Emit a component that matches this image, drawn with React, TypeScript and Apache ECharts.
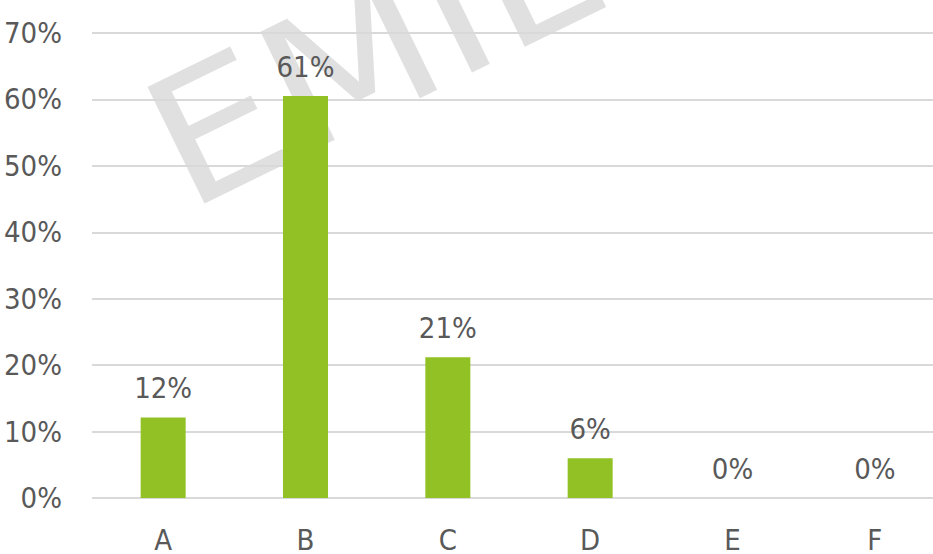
import React, { useEffect, useRef } from "react";
import * as echarts from "echarts";

const categories = ["A", "B", "C", "D", "E", "F"];
const values = [12.1, 60.5, 21.2, 6.0, 0, 0];
const yTicks = [0, 10, 20, 30, 40, 50, 60, 70];
const watermark = "EMIL";

const FONT = "'DejaVu Sans Condensed', 'DejaVu Sans', sans-serif";
const TEXT_COLOR = "#595959";

export default function App() {
  const ref = useRef<HTMLDivElement>(null);
  useEffect(() => {
    document.body.style.margin = "0";
    document.body.style.overflow = "hidden";
    if (!ref.current) return;
    const chart = echarts.init(ref.current, undefined, { renderer: "svg" });
    chart.setOption({
      animation: false,
      backgroundColor: "#ffffff",
      textStyle: { fontFamily: FONT },
      graphic: [
        {
          type: "text",
          x: 160,
          y: 157,
          rotation: 0.455,
          scaleX: 1.12,
          z: 0,
          zlevel: 0,
          silent: true,
          style: {
            text: watermark,
            fontFamily: "'DejaVu Sans', sans-serif",
            fontSize: 178,
            fill: "#e0e0e0",
            align: "left",
            verticalAlign: "middle",
          },
        },
      ],
      grid: { left: 92, top: 33, width: 854, height: 467, containLabel: false },
      xAxis: {
        type: "category",
        data: categories,
        axisLine: { show: false },
        axisTick: { show: false },
        axisLabel: { color: TEXT_COLOR, fontSize: 29, margin: 27, fontFamily: FONT },
      },
      yAxis: {
        type: "value",
        min: yTicks[0],
        max: yTicks[yTicks.length - 1],
        interval: 10,
        axisLine: { show: false },
        axisTick: { show: false },
        axisLabel: {
          color: TEXT_COLOR,
          fontSize: 29,
          margin: 30,
          fontFamily: FONT,
          formatter: (v: number) => `${v}%`,
        },
        splitLine: { lineStyle: { color: "#d9d9d9", width: 2 } },
      },
      series: [
        {
          type: "bar",
          data: values,
          barWidth: 45,
          z: 3,
          itemStyle: { color: "#92c125" },
          label: {
            show: true,
            position: "top",
            distance: 15,
            color: TEXT_COLOR,
            fontSize: 29,
            fontFamily: FONT,
            formatter: (p: any) => `${Math.round(p.value)}%`,
          },
        },
      ],
    });
    return () => chart.dispose();
  }, []);
  return (
    <div style={{ width: 933, height: 554, overflow: "hidden" }}>
      <div ref={ref} style={{ width: 950, height: 554 }} />
    </div>
  );
}
